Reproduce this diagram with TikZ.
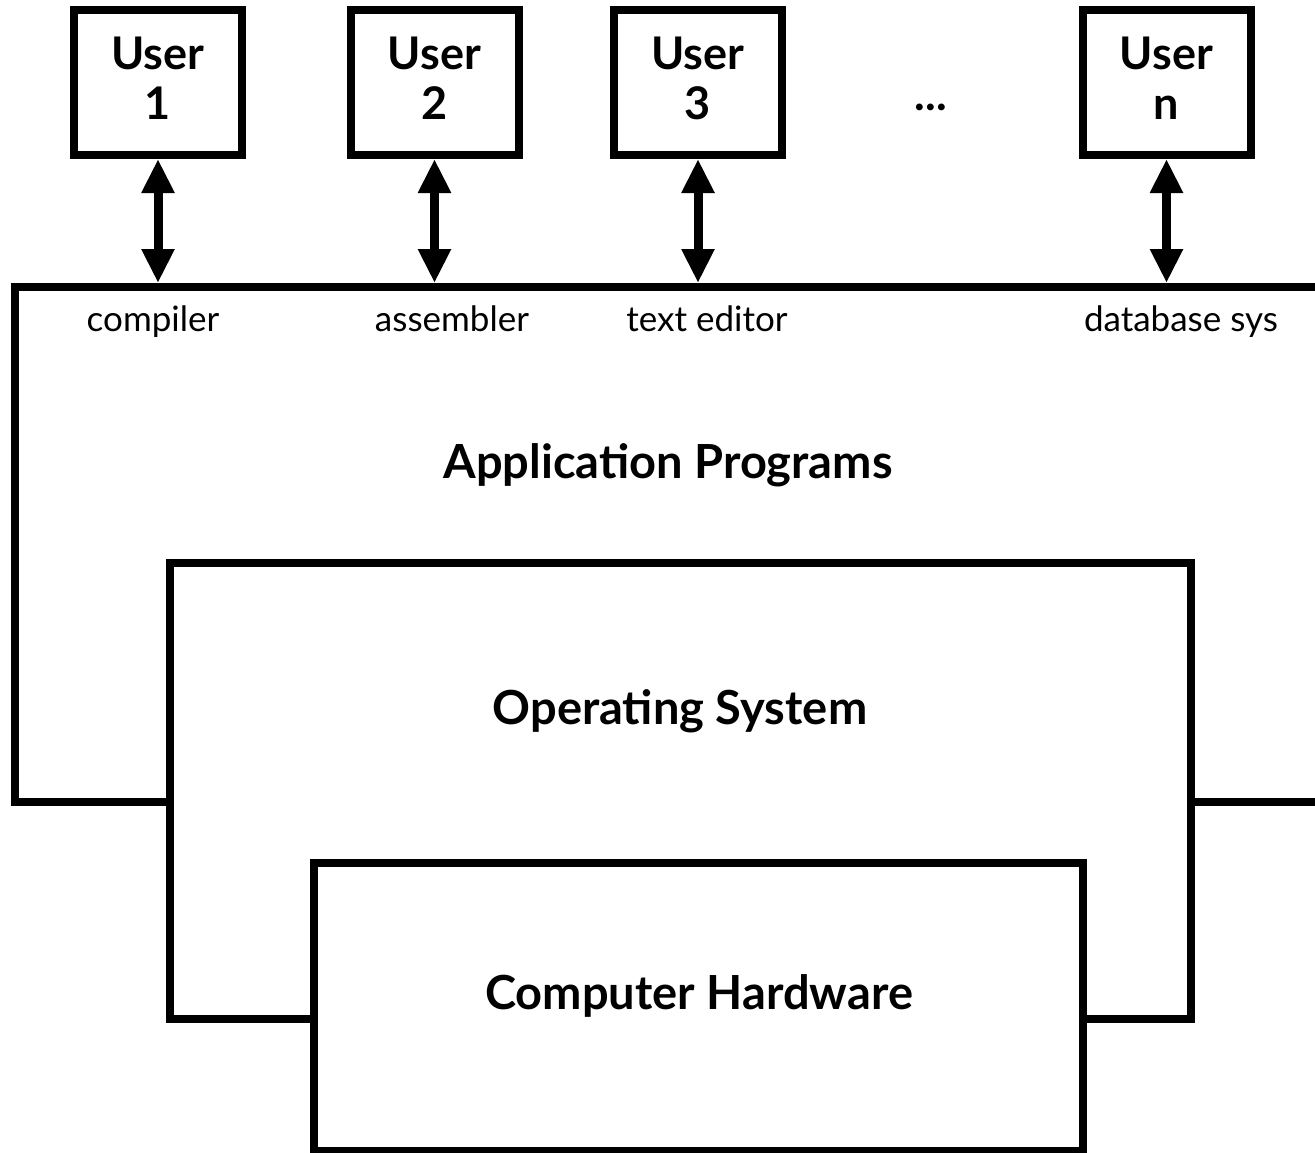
\documentclass[tikz,border=0pt]{standalone}
\usepackage{fontspec}
\setmainfont{Lato}
\usetikzlibrary{arrows.meta}
\begin{document}
\begin{tikzpicture}[x=1pt,y=-1pt,
  box/.style={draw=black, line width=8pt, fill=white, inner sep=0pt},
  userbox/.style={box, minimum width=168pt, minimum height=145pt, align=center,
    font=\fontsize{45}{50}\selectfont\bfseries, text depth=9pt},
  biglabel/.style={font=\fontsize{47}{52}\selectfont\bfseries, inner sep=0pt, anchor=base},
  smalllabel/.style={font=\fontsize{35}{40}\selectfont, inner sep=0pt, anchor=base},
  link/.style={line width=9pt, {Triangle[width=31pt,length=34pt]}-{Triangle[width=31pt,length=34pt]}}
]
\clip (0,0) rectangle (1315,1152);
% layers
\node[box, minimum width=1315pt, minimum height=515pt] (app) at (672.5,544.5) {};
\node[box, minimum width=1021pt, minimum height=456pt] (os) at (680.5,791) {};
\node[box, minimum width=769pt, minimum height=288pt] (hw) at (698.5,1007) {};
% users
\node[userbox] (u1) at (158,82.5) {User\\1};
\node[userbox] (u2) at (434.5,82.5) {User\\2};
\node[userbox] (u3) at (698,82.5) {User\\3};
\node[userbox] (un) at (1166.5,82.5) {User\\n};
\node[font=\fontsize{45}{50}\selectfont\bfseries, inner sep=0pt, anchor=base] (dots) at (931,110) {...};
% connectors
\draw[link] (u1.south) -- (u1.south |- app.north);
\draw[link] (u2.south) -- (u2.south |- app.north);
\draw[link] (u3.south) -- (u3.south |- app.north);
\draw[link] (un.south) -- (un.south |- app.north);
% labels
\node[smalllabel] (l1) at (153,331) {compiler};
\node[smalllabel] (l2) at (452,331) {assembler};
\node[smalllabel] (l3) at (707,331) {text editor};
\node[smalllabel] (l4) at (1181,331) {database sys};
\node[biglabel] (tapp) at (668,478) {Application Programs};
\node[biglabel] (tos) at (680,724) {Operating System};
\node[biglabel] (thw) at (699,1009) {Computer Hardware};
\end{tikzpicture}
\end{document}
